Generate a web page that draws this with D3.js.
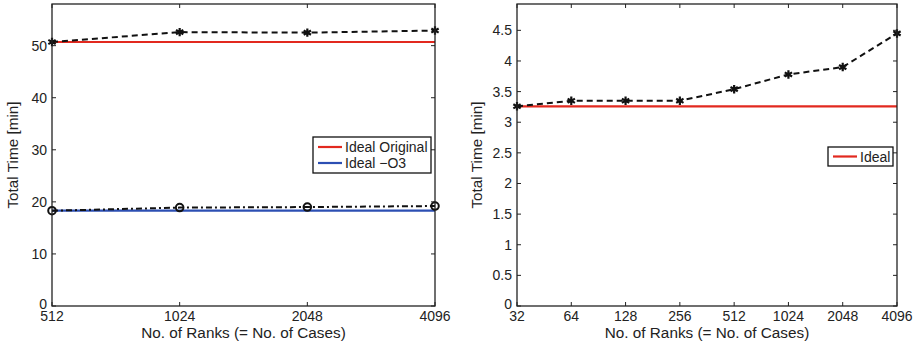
<!DOCTYPE html>
<html>
<head>
<meta charset="utf-8">
<script src="https://cdn.jsdelivr.net/npm/d3@7"></script>
<style>
  body { margin: 0; background: #fff; }
  text { font-family: "Liberation Sans", Arial, sans-serif; fill: #222; }
</style>
</head>
<body>
<svg id="chart" width="919" height="348"></svg>
<script>
// left panel data
var ranksA = [512, 1024, 2048, 4096];
var origA = [50.7, 52.6, 52.5, 52.9];
var o3A = [18.3, 18.9, 19.0, 19.2];
var idealOrigA = 50.7;
var idealO3A = 18.3;
var yTicksA = [0, 10, 20, 30, 40, 50];

// right panel data
var ranksB = [32, 64, 128, 256, 512, 1024, 2048, 4096];
var timeB = [3.26, 3.35, 3.35, 3.35, 3.54, 3.78, 3.90, 4.45];
var idealB = 3.26;
var yTicksB = [0, 0.5, 1, 1.5, 2, 2.5, 3, 3.5, 4, 4.5];

var red = '#e2291f', blue = '#2c4fb3';
var svg = d3.select('#chart');

function panel(opt) {
  var x = d3.scaleLog().base(2).domain(opt.xDomain).range([opt.x0, opt.x1]),
      y = d3.scaleLinear().domain(opt.yDomain).range([opt.y1, opt.y0]),
      g = svg.append('g');

  // ideal lines first
  opt.ideals.forEach(function (d) {
    g.append('line')
      .attr('x1', x(opt.xDomain[0])).attr('x2', x(opt.xDomain[1]))
      .attr('y1', y(d.value)).attr('y2', y(d.value))
      .attr('stroke', d.color).attr('stroke-width', 2.2);
  });

  var line = d3.line().x(function (d) { return x(d[0]); }).y(function (d) { return y(d[1]); });

  opt.series.forEach(function (s) {
    var pts = d3.zip(opt.ranks, s.values);
    g.append('path').attr('d', line(pts))
      .attr('fill', 'none').attr('stroke', '#111').attr('stroke-width', 2)
      .attr('stroke-dasharray', s.dash);
    var sym = d3.symbol().type(s.marker === 'o' ? d3.symbolCircle : d3.symbolAsterisk)
      .size(s.marker === 'o' ? 45 : 50);
    g.selectAll(null).data(pts).enter().append('path')
      .attr('transform', function (d) { return 'translate(' + x(d[0]) + ',' + y(d[1]) + ')'; })
      .attr('d', sym)
      .attr('fill', 'none').attr('stroke', '#111').attr('stroke-width', s.marker === 'o' ? 2 : 2.2);
  });

  // box
  g.append('rect').attr('x', opt.x0).attr('y', opt.y0)
    .attr('width', opt.x1 - opt.x0).attr('height', opt.y1 - opt.y0)
    .attr('fill', 'none').attr('stroke', '#222').attr('stroke-width', 1.3);

  // inward ticks
  opt.ranks.forEach(function (r) {
    g.append('line').attr('x1', x(r)).attr('x2', x(r)).attr('y1', opt.y1).attr('y2', opt.y1 - 4)
      .attr('stroke', '#222');
    g.append('line').attr('x1', x(r)).attr('x2', x(r)).attr('y1', opt.y0).attr('y2', opt.y0 + 4)
      .attr('stroke', '#222');
    g.append('text').attr('x', x(r)).attr('y', opt.y1 + 15)
      .attr('text-anchor', 'middle').attr('font-size', 14).text(r);
  });
  opt.yTicks.forEach(function (t) {
    g.append('line').attr('x1', opt.x0).attr('x2', opt.x0 + 4).attr('y1', y(t)).attr('y2', y(t))
      .attr('stroke', '#222');
    g.append('line').attr('x1', opt.x1).attr('x2', opt.x1 - 4).attr('y1', y(t)).attr('y2', y(t))
      .attr('stroke', '#222');
    g.append('text').attr('x', opt.x0 - 5).attr('y', y(t) + (t === 0 ? 3 : 5))
      .attr('text-anchor', 'end').attr('font-size', 14).text(t);
  });

  // axis titles
  g.append('text').attr('x', (opt.x0 + opt.x1) / 2).attr('y', opt.y1 + 32)
    .attr('text-anchor', 'middle').attr('font-size', 15.3).text('No. of Ranks (= No. of Cases)');
  g.append('text')
    .attr('transform', 'translate(' + opt.yLabelX + ',' + ((opt.y0 + opt.y1) / 2) + ') rotate(-90)')
    .attr('text-anchor', 'middle').attr('font-size', 15.3).text('Total Time [min]');

  // legend
  var lg = g.append('g').attr('transform', 'translate(' + opt.legend.x + ',' + opt.legend.y + ')');
  lg.append('rect').attr('width', opt.legend.w).attr('height', opt.legend.h)
    .attr('fill', '#fff').attr('stroke', '#111').attr('stroke-width', 1.3);
  opt.ideals.forEach(function (d, i) {
    var yy = opt.legend.h / 2 + (i - (opt.ideals.length - 1) / 2) * 16;
    lg.append('line').attr('x1', 5).attr('x2', 29).attr('y1', yy).attr('y2', yy)
      .attr('stroke', d.color).attr('stroke-width', 2.2);
    lg.append('text').attr('x', 32).attr('y', yy + 5).attr('font-size', 14).text(d.label);
  });
}

panel({
  x0: 52, x1: 435, y0: 4, y1: 306,
  xDomain: [512, 4096], yDomain: [0, 58],
  ranks: ranksA, yTicks: yTicksA, yLabelX: 18,
  ideals: [{ value: idealOrigA, color: red, label: 'Ideal Original' },
           { value: idealO3A, color: blue, label: 'Ideal \u2212O3' }],
  series: [{ values: origA, dash: '6,4', marker: '*' },
           { values: o3A, dash: '6,3,2,3', marker: 'o' }],
  legend: { x: 313, y: 137, w: 118, h: 36 }
});

panel({
  x0: 517, x1: 897, y0: 4, y1: 306,
  xDomain: [32, 4096], yDomain: [0, 4.93],
  ranks: ranksB, yTicks: yTicksB, yLabelX: 482,
  ideals: [{ value: idealB, color: red, label: 'Ideal' }],
  series: [{ values: timeB, dash: '6,4', marker: '*' }],
  legend: { x: 828, y: 147, w: 65, h: 19 }
});
</script>
</body>
</html>
